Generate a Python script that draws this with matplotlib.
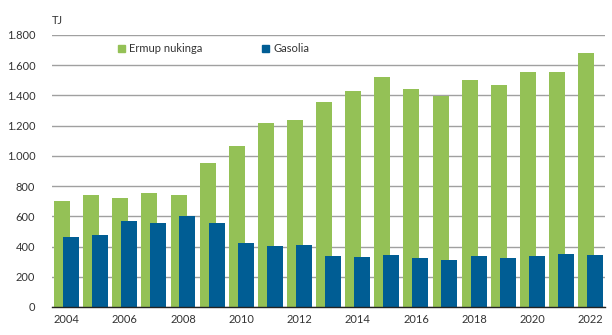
import numpy as np
import matplotlib
matplotlib.use("Agg")
import matplotlib.pyplot as plt
from matplotlib.patches import Patch

plt.rcParams['font.family'] = ['Lato', 'DejaVu Sans']

years = list(range(2004, 2023))
ermup_nukinga = [701, 743, 719, 752, 743, 951, 1065, 1216, 1240, 1355, 1429,
                 1520, 1445, 1398, 1502, 1469, 1553, 1553, 1679]
gasolia = [461, 479, 569, 554, 602, 554, 421, 404, 412, 338, 329,
           346, 322, 313, 338, 322, 338, 353, 346]
y_ticks = [0, 200, 400, 600, 800, 1000, 1200, 1400, 1600, 1800]
y_labels = ['0', '200', '400', '600', '800', '1.000', '1.200', '1.400', '1.600', '1.800']

GREEN = '#94c156'
BLUE = '#005d94'

fig = plt.figure(figsize=(6.12, 3.35), dpi=100)
ax = fig.add_axes([0.085, 0.0836, 0.904, 0.812])

x = np.arange(len(years))
w = 0.55
ax.bar(x - 0.155, ermup_nukinga, width=w, color=GREEN, zorder=2)
ax.bar(x + 0.15, gasolia, width=w, color=BLUE, zorder=3)

ax.set_xlim(-0.5, len(years) - 0.5)
ax.set_ylim(0, 1800)
ax.set_yticks(y_ticks)
ax.set_yticklabels(y_labels)
ax.set_xticks(x[::2])
ax.set_xticklabels([str(y) for y in years[::2]])
ax.tick_params(length=0, labelsize=8, colors='#333333', pad=5)
ax.tick_params(axis='y', pad=12)

ax.yaxis.grid(True, color='#a0a0a0', linewidth=1.0, zorder=0)
ax.set_axisbelow(True)
for s in ['top', 'right', 'left']:
    ax.spines[s].set_visible(False)
ax.spines['bottom'].set_color('#222222')
ax.spines['bottom'].set_linewidth(1.0)
ax.spines['bottom'].set_zorder(4)

fig.text(52 / 612, 1 - 21 / 335, 'TJ', fontsize=8, color='#333333', va='center')

handles = [Patch(color=GREEN, label='Ermup nukinga'), Patch(color=BLUE, label='Gasolia')]
fig.legend(handles=handles, loc='center left', bbox_to_anchor=(108 / 612, 1 - 49 / 335),
           ncol=2, frameon=False, fontsize=8, handlelength=0.6, handleheight=0.6,
           handletextpad=0.4, columnspacing=5.4, labelcolor='#333333')

fig.savefig('out.png', dpi=100)
